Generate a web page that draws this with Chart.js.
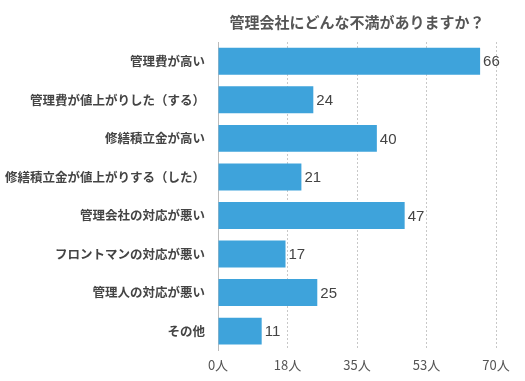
<!DOCTYPE html>
<html><head><meta charset="utf-8">
<script src="https://cdn.jsdelivr.net/npm/chart.js@4/dist/chart.umd.min.js"></script>
<style>html,body{margin:0;padding:0;background:#fff}#wrap{width:525px;height:381px}</style>
</head><body><div id="wrap"><canvas id="c"></canvas></div>
<script>
const categories = ["管理費が高い","管理費が値上がりした（する）","修繕積立金が高い","修繕積立金が値上がりする（した）","管理会社の対応が悪い","フロントマンの対応が悪い","管理人の対応が悪い","その他"];
const values = [66,24,40,21,47,17,25,11];
const tickValues = [0,17.5,35,52.5,70];
const titleText = "管理会社にどんな不満がありますか？";
const FONT = "'Noto Sans CJK JP','Noto Sans',sans-serif";

const valueLabels = {
  id:'valueLabels',
  afterDatasetsDraw(chart){
    const ctx = chart.ctx;
    const meta = chart.getDatasetMeta(0);
    ctx.save();
    ctx.font = "15px 'Liberation Sans','Noto Sans',sans-serif";
    ctx.fillStyle = '#444';
    ctx.textAlign = 'left';
    ctx.textBaseline = 'middle';
    meta.data.forEach((bar,i)=>{
      ctx.fillText(String(values[i]), bar.x + 3, bar.y + 1);
    });
    ctx.restore();
  }
};

new Chart(document.getElementById('c'), {
  type:'bar',
  data:{labels:categories, datasets:[{data:values, backgroundColor:'#3ea3db', borderWidth:0, barPercentage:0.7, categoryPercentage:1}]},
  options:{
    indexAxis:'y', responsive:true, maintainAspectRatio:false, animation:false,
    layout:{padding:{left:3,right:29,top:13,bottom:5}},
    plugins:{
      legend:{display:false}, tooltip:{enabled:false},
      title:{display:true, text:titleText, fullSize:false, color:'#555', font:{family:FONT, size:15, weight:'bold'}, padding:{top:0,bottom:11}}
    },
    scales:{
      x:{min:0, max:70, afterBuildTicks(axis){axis.ticks = tickValues.map(v=>({value:v}));},
        ticks:{callback:(v)=>Math.round(v)+'人', color:'#555', font:{family:FONT,size:13}, padding:3},
        grid:{color:(c)=>c.index===0?'rgba(0,0,0,0)':'#c8c8c8', borderDash:[2,2], drawTicks:true, tickLength:4, tickColor:'rgba(0,0,0,0)'},
        border:{display:false, dash:[2,2]}
      },
      y:{afterFit(scale){scale.width = 215;},
        ticks:{color:'#444', font:{family:FONT,size:12.5,weight:'bold'}, padding:13},
        grid:{display:false, drawTicks:false},
        border:{display:true, color:'#bbb', width:1}
      }
    }
  },
  plugins:[valueLabels]
});
</script></body></html>
